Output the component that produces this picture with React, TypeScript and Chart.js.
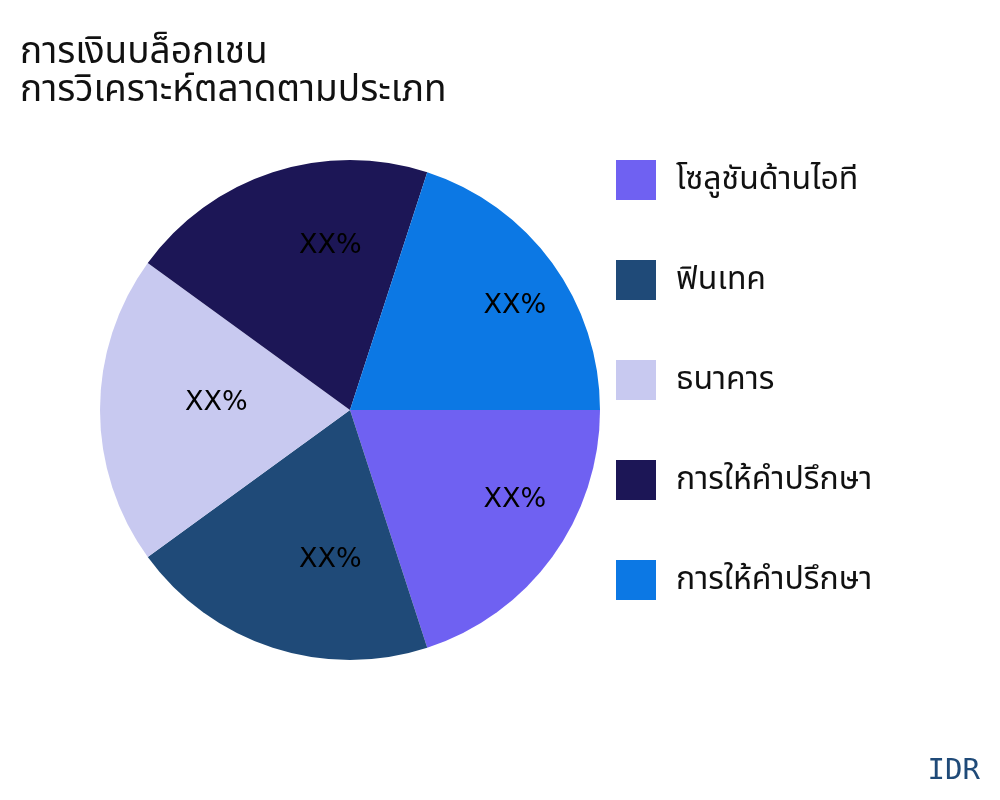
import React, { useEffect, useRef } from "react";
import { Chart, registerables } from "chart.js";

Chart.register(...registerables);

const titleLines = ["การเงินบล็อกเชน", "การวิเคราะห์ตลาดตามประเภท"];
const categories = ["โซลูชันด้านไอที", "ฟินเทค", "ธนาคาร", "การให้คำปรึกษา", "การให้คำปรึกษา"];
const shares = [20, 20, 20, 20, 20];
const sliceLabels = ["XX%", "XX%", "XX%", "XX%", "XX%"];
const colors = ["#6F61F2", "#1F4A78", "#C8C9F0", "#1C1656", "#0C78E4"];
const currency = "IDR";

const THAI_FONT = '"Noto Sans", "Noto Sans Thai", sans-serif';

const sliceLabelPlugin = {
  id: "sliceLabels",
  afterDatasetsDraw(chart: any) {
    const ctx = chart.ctx;
    const meta = chart.getDatasetMeta(0);
    ctx.save();
    ctx.font = '27px "DejaVu Sans", sans-serif';
    ctx.fillStyle = "#000000";
    ctx.textAlign = "left";
    ctx.textBaseline = "alphabetic";
    meta.data.forEach((arc: any, i: number) => {
      const p = arc.getProps(["x", "y", "startAngle", "endAngle", "outerRadius"], true);
      const mid = (p.startAngle + p.endAngle) / 2;
      const r = p.outerRadius * 0.66;
      ctx.fillText(sliceLabels[i], p.x + Math.cos(mid) * r, p.y + Math.sin(mid) * r);
    });
    ctx.restore();
  },
};

const legendPlugin = {
  id: "sideLegend",
  afterDraw(chart: any) {
    const ctx = chart.ctx;
    const area = chart.chartArea;
    const labels = chart.data.labels as string[];
    const bg = chart.data.datasets[0].backgroundColor as string[];
    const x0 = area.right + 16;
    const y0 = area.top;
    ctx.save();
    ctx.font = `32px ${THAI_FONT}`;
    ctx.textAlign = "left";
    ctx.textBaseline = "middle";
    labels.forEach((lab, i) => {
      const y = y0 + i * 100;
      ctx.fillStyle = bg[i];
      ctx.fillRect(x0, y, 40, 40);
      ctx.fillStyle = "#111111";
      ctx.fillText(lab, x0 + 60, y + 20);
    });
    ctx.restore();
  },
};

const titlePlugin = {
  id: "titleAndNote",
  afterDraw(chart: any) {
    const ctx = chart.ctx;
    ctx.save();
    ctx.font = `37px ${THAI_FONT}`;
    ctx.fillStyle = "#111111";
    ctx.textAlign = "left";
    ctx.textBaseline = "alphabetic";
    titleLines.forEach((t, i) => ctx.fillText(t, 20, 63 + i * 38));
    ctx.font = '29px "DejaVu Sans Mono", monospace';
    ctx.fillStyle = "#1F4A78";
    ctx.textAlign = "right";
    ctx.fillText(currency, 980, 779);
    ctx.restore();
  },
};

export default function App() {
  const ref = useRef<HTMLCanvasElement | null>(null);
  useEffect(() => {
    document.body.style.margin = "0";
    const chart = new Chart(ref.current as HTMLCanvasElement, {
      type: "pie",
      data: {
        labels: categories,
        datasets: [
          {
            data: shares,
            backgroundColor: colors,
            borderWidth: 0,
          },
        ],
      },
      options: {
        responsive: false,
        animation: false,
        devicePixelRatio: 1,
        rotation: 90,
        layout: { padding: { left: 100, right: 400, top: 160, bottom: 140 } },
        plugins: {
          legend: { display: false },
          tooltip: { enabled: false },
          title: { display: false },
        },
      },
      plugins: [sliceLabelPlugin, legendPlugin, titlePlugin],
    });
    return () => chart.destroy();
  }, []);
  return (
    <div style={{ width: 1000, height: 800, background: "#ffffff" }}>
      <canvas ref={ref} width={1000} height={800} style={{ display: "block" }} />
    </div>
  );
}
